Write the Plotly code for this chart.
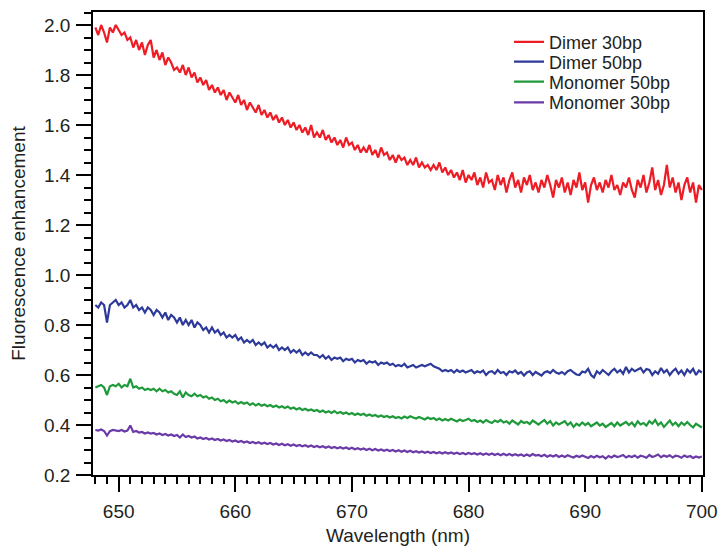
import numpy as np
import plotly.graph_objects as go

# Fluorescence enhancement spectra, sampled every 0.25 nm from 648 to 700 nm
# (one row per nanometre: x.00, x.25, x.50, x.75)
DIMER_30 = [
    1.99, 1.96, 2.00, 1.97,  # 648
    1.93, 1.99, 1.97, 2.00,
    1.98, 1.96, 1.97, 1.94,  # 650
    1.95, 1.91, 1.94, 1.90,
    1.93, 1.88, 1.92, 1.94,
    1.87, 1.90, 1.86, 1.89,
    1.84, 1.87, 1.85, 1.82,
    1.83, 1.81, 1.84, 1.80,  # 655
    1.83, 1.79, 1.81, 1.77,
    1.79, 1.76, 1.78, 1.74,
    1.76, 1.73, 1.75, 1.72,
    1.74, 1.70, 1.73, 1.71,
    1.69, 1.72, 1.68, 1.70,  # 660
    1.66, 1.69, 1.67, 1.65,
    1.68, 1.64, 1.66, 1.63,
    1.65, 1.62, 1.64, 1.61,
    1.63, 1.60, 1.62, 1.59,
    1.61, 1.58, 1.60, 1.57,  # 665
    1.59, 1.56, 1.60, 1.55,
    1.57, 1.55, 1.58, 1.54,
    1.56, 1.53, 1.55, 1.52,
    1.54, 1.51, 1.55, 1.52,
    1.53, 1.50, 1.52, 1.49,  # 670
    1.51, 1.49, 1.52, 1.48,
    1.50, 1.47, 1.51, 1.48,
    1.49, 1.46, 1.48, 1.45,
    1.48, 1.46, 1.47, 1.44,
    1.46, 1.44, 1.47, 1.43,  # 675
    1.45, 1.43, 1.44, 1.42,
    1.44, 1.42, 1.45, 1.41,
    1.43, 1.40, 1.42, 1.39,
    1.41, 1.38, 1.42, 1.37,
    1.40, 1.38, 1.41, 1.36,  # 680
    1.39, 1.35, 1.41, 1.37,
    1.38, 1.34, 1.40, 1.36,
    1.39, 1.33, 1.38, 1.41,
    1.35, 1.38, 1.33, 1.39,
    1.36, 1.40, 1.34, 1.37,  # 685
    1.33, 1.38, 1.35, 1.40,
    1.36, 1.31, 1.38, 1.35,
    1.39, 1.33, 1.37, 1.32,
    1.38, 1.35, 1.41, 1.34,
    1.37, 1.29, 1.36, 1.39,  # 690
    1.34, 1.37, 1.33, 1.38,
    1.35, 1.40, 1.34, 1.36,
    1.32, 1.37, 1.35, 1.39,
    1.34, 1.31, 1.38, 1.35,
    1.40, 1.33, 1.37, 1.43,  # 695
    1.34, 1.38, 1.32, 1.36,
    1.44, 1.35, 1.39, 1.33,
    1.37, 1.30, 1.36, 1.39,
    1.33, 1.37, 1.29, 1.36,
    1.34,                    # 700
]

DIMER_50 = [
    0.88, 0.87, 0.89, 0.88,  # 648
    0.81, 0.88, 0.89, 0.90,
    0.88, 0.89, 0.87, 0.88,  # 650
    0.90, 0.87, 0.88, 0.86,
    0.87, 0.85, 0.87, 0.86,
    0.84, 0.86, 0.85, 0.83,
    0.85, 0.82, 0.84, 0.83,
    0.81, 0.83, 0.80, 0.82,  # 655
    0.80, 0.82, 0.79, 0.81,
    0.80, 0.78, 0.79, 0.77,
    0.79, 0.77, 0.78, 0.76,
    0.77, 0.75, 0.76, 0.75,
    0.76, 0.74, 0.75, 0.73,  # 660
    0.74, 0.73, 0.74, 0.72,
    0.73, 0.72, 0.73, 0.71,
    0.72, 0.71, 0.72, 0.70,
    0.71, 0.70, 0.71, 0.69,
    0.70, 0.69, 0.70, 0.68,  # 665
    0.69, 0.68, 0.69, 0.68,
    0.68, 0.67, 0.68, 0.665,
    0.675, 0.66, 0.67, 0.665,
    0.67, 0.655, 0.665, 0.66,
    0.665, 0.65, 0.66, 0.655,  # 670
    0.66, 0.645, 0.655, 0.65,
    0.655, 0.64, 0.65, 0.645,
    0.65, 0.64, 0.645, 0.635,
    0.64, 0.635, 0.645, 0.63,
    0.635, 0.64, 0.63, 0.635,  # 675
    0.64, 0.635, 0.64, 0.645,
    0.635, 0.63, 0.625, 0.615,
    0.62, 0.615, 0.62, 0.61,
    0.62, 0.612, 0.618, 0.61,
    0.615, 0.62, 0.608, 0.615,  # 680
    0.61, 0.618, 0.60, 0.612,
    0.615, 0.605, 0.62, 0.608,
    0.612, 0.60, 0.615, 0.61,
    0.618, 0.605, 0.612, 0.598,
    0.61, 0.615, 0.60, 0.612,  # 685
    0.605, 0.598, 0.61, 0.615,
    0.608, 0.62, 0.61, 0.605,
    0.612, 0.603, 0.615, 0.62,
    0.61, 0.602, 0.60, 0.614,
    0.61, 0.625, 0.60, 0.59,  # 690
    0.615, 0.605, 0.62, 0.61,
    0.60, 0.615, 0.625, 0.61,
    0.62, 0.605, 0.632, 0.61,
    0.625, 0.615, 0.62, 0.628,
    0.61, 0.624, 0.62, 0.60,  # 695
    0.615, 0.605, 0.628, 0.61,
    0.62, 0.60, 0.615, 0.625,
    0.605, 0.618, 0.60, 0.622,
    0.61, 0.625, 0.60, 0.618,
    0.61,                      # 700
]

MONOMER_50 = [
    0.55, 0.555, 0.56, 0.55,  # 648
    0.52, 0.555, 0.56, 0.555,
    0.565, 0.55, 0.56, 0.555,  # 650
    0.585, 0.55, 0.555, 0.545,
    0.55, 0.54, 0.545, 0.54,
    0.545, 0.535, 0.545, 0.535,
    0.54, 0.53, 0.535, 0.525,
    0.52, 0.535, 0.51, 0.53,  # 655
    0.52, 0.515, 0.525, 0.515,
    0.52, 0.51, 0.515, 0.505,
    0.51, 0.50, 0.505, 0.495,
    0.50, 0.49, 0.498, 0.49,
    0.495, 0.485, 0.492, 0.485,  # 660
    0.49, 0.48, 0.487, 0.478,
    0.485, 0.477, 0.482, 0.475,
    0.48, 0.472, 0.478, 0.47,
    0.475, 0.468, 0.474, 0.465,
    0.47, 0.462, 0.468, 0.46,  # 665
    0.465, 0.458, 0.462, 0.456,
    0.46, 0.452, 0.458, 0.45,
    0.455, 0.448, 0.456, 0.447,
    0.452, 0.445, 0.45, 0.443,
    0.448, 0.44, 0.446, 0.44,  # 670
    0.445, 0.437, 0.442, 0.436,
    0.44, 0.433, 0.438, 0.432,
    0.436, 0.43, 0.435, 0.428,
    0.432, 0.426, 0.434, 0.428,
    0.435, 0.43, 0.426, 0.432,  # 675
    0.428, 0.422, 0.43, 0.424,
    0.428, 0.42, 0.426, 0.418,
    0.424, 0.418, 0.425, 0.42,
    0.414, 0.422, 0.416, 0.42,
    0.425, 0.416, 0.42, 0.412,  # 680
    0.418, 0.41, 0.42, 0.413,
    0.408, 0.418, 0.412, 0.42,
    0.41, 0.415, 0.405, 0.418,
    0.41, 0.402, 0.416, 0.408,
    0.412, 0.404, 0.418, 0.41,  # 685
    0.402, 0.412, 0.42, 0.405,
    0.415, 0.398, 0.41, 0.402,
    0.408, 0.415, 0.40, 0.41,
    0.392, 0.405, 0.398, 0.41,
    0.40, 0.408, 0.395, 0.402,  # 690
    0.41, 0.398, 0.405, 0.392,
    0.40, 0.408, 0.395, 0.41,
    0.398, 0.405, 0.412, 0.40,
    0.41, 0.395, 0.415, 0.402,
    0.408, 0.398, 0.415, 0.405,  # 695
    0.42, 0.40, 0.41, 0.392,
    0.405, 0.418, 0.40, 0.41,
    0.395, 0.41, 0.40, 0.412,
    0.40, 0.39, 0.405, 0.398,
    0.39,                        # 700
]

MONOMER_30 = [
    0.38, 0.378, 0.382, 0.376,  # 648
    0.358, 0.375, 0.38, 0.378,
    0.376, 0.38, 0.374, 0.378,  # 650
    0.398, 0.372, 0.376, 0.37,
    0.372, 0.366, 0.37, 0.366,
    0.368, 0.362, 0.366, 0.36,
    0.364, 0.358, 0.362, 0.356,
    0.36, 0.35, 0.362, 0.352,  # 655
    0.356, 0.35, 0.354, 0.346,
    0.35, 0.344, 0.348, 0.342,
    0.346, 0.34, 0.344, 0.338,
    0.342, 0.336, 0.34, 0.334,
    0.338, 0.332, 0.336, 0.33,  # 660
    0.334, 0.328, 0.332, 0.327,
    0.331, 0.325, 0.329, 0.324,
    0.328, 0.322, 0.326, 0.32,
    0.325, 0.319, 0.323, 0.317,
    0.322, 0.316, 0.32, 0.315,  # 665
    0.319, 0.313, 0.318, 0.312,
    0.316, 0.311, 0.315, 0.309,
    0.314, 0.308, 0.312, 0.307,
    0.311, 0.306, 0.31, 0.304,
    0.309, 0.303, 0.307, 0.302,  # 670
    0.306, 0.30, 0.305, 0.299,
    0.304, 0.298, 0.302, 0.297,
    0.301, 0.296, 0.30, 0.294,
    0.299, 0.293, 0.298, 0.292,
    0.297, 0.291, 0.295, 0.29,  # 675
    0.294, 0.289, 0.293, 0.288,
    0.292, 0.287, 0.291, 0.286,
    0.291, 0.286, 0.29, 0.285,
    0.289, 0.284, 0.288, 0.283,
    0.288, 0.284, 0.287, 0.282,  # 680
    0.287, 0.281, 0.286, 0.281,
    0.286, 0.28, 0.285, 0.279,
    0.285, 0.279, 0.284, 0.278,
    0.283, 0.278, 0.282, 0.276,
    0.282, 0.276, 0.284, 0.278,  # 685
    0.28, 0.275, 0.281, 0.273,
    0.279, 0.274, 0.28, 0.272,
    0.278, 0.272, 0.279, 0.274,
    0.27, 0.277, 0.272, 0.278,
    0.274, 0.268, 0.276, 0.27,  # 690
    0.277, 0.271, 0.275, 0.266,
    0.276, 0.27, 0.278, 0.272,
    0.275, 0.28, 0.27, 0.276,
    0.272, 0.278, 0.269, 0.277,
    0.274, 0.269, 0.28, 0.272,  # 695
    0.276, 0.282, 0.271, 0.278,
    0.273, 0.279, 0.27, 0.277,
    0.275, 0.269, 0.278, 0.272,
    0.276, 0.268, 0.274, 0.27,
    0.274,                      # 700
]

# measurement grid of the spectrometer
WAVELENGTH = 648.0 + 0.25 * np.arange(len(DIMER_30))

SERIES = [
    ('Dimer 30bp', DIMER_30, '#ee1c25'),
    ('Dimer 50bp', DIMER_50, '#2e3a9a'),
    ('Monomer 50bp', MONOMER_50, '#1f9a3a'),
    ('Monomer 30bp', MONOMER_30, '#6a3aa8'),
]

TEXT = '#231f20'
FONT = 'Arial, Liberation Sans, sans-serif'

# each legend entry gets its own legend box so the rows can sit close together
LEGEND_ROWS = [0.935, 0.892, 0.849, 0.804]
LEGEND_IDS = ['legend', 'legend2', 'legend3', 'legend4']

fig = go.Figure()
for (name, values, color), legend_id in zip(SERIES, LEGEND_IDS):
    assert len(values) == len(WAVELENGTH), name
    fig.add_trace(go.Scatter(
        x=WAVELENGTH,
        y=values,
        mode='lines',
        name=name,
        legend=legend_id,
        line=dict(color=color, width=2.2),
    ))

axis_style = dict(
    showgrid=False,
    zeroline=False,
    showline=True,
    mirror=True,
    automargin=False,
    linecolor='#000000',
    linewidth=1.5,
    ticks='outside',
    ticklen=15,
    tickwidth=1.5,
    tickcolor='#000000',
    tickfont=dict(size=19, color=TEXT, family=FONT),
)

fig.update_xaxes(
    **axis_style,
    range=[647.8, 700.1],
    dtick=10,
    tick0=650,
    ticklabelstandoff=3,
    minor=dict(dtick=1, tick0=650, ticks='outside', ticklen=7, tickwidth=1.5, tickcolor='#000000'),
    title=dict(text='Wavelength (nm)', font=dict(size=19, color=TEXT, family=FONT), standoff=8),
)
fig.update_yaxes(
    **axis_style,
    range=[0.2, 2.052],
    dtick=0.2,
    tick0=0.2,
    tickformat='.1f',
    ticklabelstandoff=2,
    minor=dict(dtick=0.05, tick0=0.2, ticks='outside', ticklen=7, tickwidth=1.5, tickcolor='#000000'),
    title=dict(text='Fluorescence enhancement', font=dict(size=19, color=TEXT, family=FONT), standoff=13),
)

legend_style = dict(
    x=0.682, xanchor='left', yanchor='middle',
    bgcolor='rgba(0,0,0,0)', borderwidth=0,
    font=dict(size=18, color=TEXT, family=FONT),
)

fig.update_layout(
    width=718,
    height=546,
    margin=dict(l=93, r=15, t=12, b=71),
    plot_bgcolor='#ffffff',
    paper_bgcolor='#ffffff',
    font=dict(family=FONT, color=TEXT, size=18),
    showlegend=True,
    **{lid: dict(legend_style, y=row) for lid, row in zip(LEGEND_IDS, LEGEND_ROWS)},
)

# drop the browser's default 8 px body margin so the figure fills the window exactly
fig.write_html(
    "out.html",
    config={'displayModeBar': False},
    post_script="document.body.style.margin='0';document.body.style.overflow='hidden';",
)
